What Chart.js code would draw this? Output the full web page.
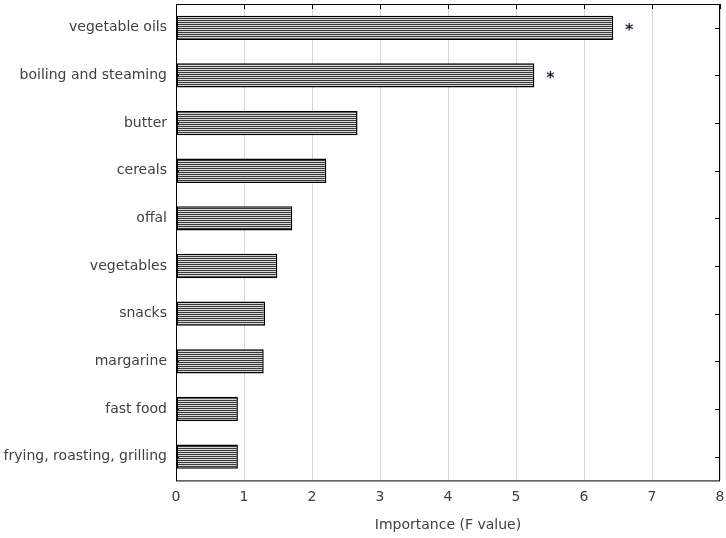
<!DOCTYPE html>
<html>
<head>
<meta charset="utf-8">
<script src="https://cdn.jsdelivr.net/npm/chart.js@4/dist/chart.umd.min.js"></script>
<style>
html,body{margin:0;padding:0;background:#fff;}
#wrap{width:726px;height:538px;position:relative;}
</style>
</head>
<body>
<div id="wrap"><canvas id="c" width="726" height="538"></canvas></div>
<script>
const categories = ["vegetable oils","boiling and steaming","butter","cereals","offal","vegetables","snacks","margarine","fast food","frying, roasting, grilling"];
const fValues = [6.43, 5.27, 2.67, 2.21, 1.71, 1.49, 1.31, 1.29, 0.91, 0.91];
const significance = ["*", "*", "", "", "", "", "", "", "", ""];
const xTicks = [0,1,2,3,4,5,6,7,8];
const axisTitle = "Importance (F value)";

function makePattern(){
  const p = document.createElement('canvas');
  p.width = 4; p.height = 2;
  const g = p.getContext('2d');
  g.fillStyle = '#d6d6d6'; g.fillRect(0,0,4,2);
  g.fillStyle = '#3a3a3a'; g.fillRect(0,0,4,1);
  return document.getElementById('c').getContext('2d').createPattern(p,'repeat');
}

const frame = {
  id: 'frame',
  afterDraw(chart){
    const {ctx, chartArea:a, scales} = chart;
    const x = scales.x, y = scales.y;
    ctx.save();
    ctx.strokeStyle = '#000';
    ctx.lineWidth = 1;
    ctx.strokeRect(a.left+0.5, a.top+0.5, a.right-a.left-1, a.bottom-a.top);
    ctx.beginPath();
    xTicks.forEach(v=>{const px=Math.round(x.getPixelForValue(v))+0.5; ctx.moveTo(px,a.top); ctx.lineTo(px,a.top+5);});
    categories.forEach((c,i)=>{
      const py=Math.round(y.getPixelForValue(i))+0.5;
      ctx.moveTo(a.right,py); ctx.lineTo(a.right-5,py);
      ctx.moveTo(a.left,py); ctx.lineTo(a.left+3,py);
    });
    ctx.stroke();
    ctx.fillStyle = '#1b2440';
    ctx.font = 'bold 16px "DejaVu Sans"';
    ctx.textAlign = 'center';
    ctx.textBaseline = 'middle';
    significance.forEach((s,i)=>{
      if(!s) return;
      const px = x.getPixelForValue(fValues[i]) + 16;
      const py = y.getPixelForValue(i) + 3;
      ctx.fillText(s, px, py);
    });
    ctx.restore();
  }
};

new Chart(document.getElementById('c'), {
  type: 'bar',
  data: {
    labels: categories,
    datasets: [{
      data: fValues,
      backgroundColor: makePattern(),
      borderColor: '#000',
      borderWidth: 1.5,
      borderSkipped: false,
      categoryPercentage: 1,
      barPercentage: 0.51
    }]
  },
  options: {
    indexAxis: 'y',
    responsive: false,
    animation: false,
    devicePixelRatio: 1,
    layout: {padding: {top: 4, right: 6, left: 0, bottom: 4}},
    plugins: {legend: {display: false}, tooltip: {enabled: false}},
    scales: {
      x: {
        min: 0, max: 8,
        afterBuildTicks(s){ s.ticks = xTicks.map(v=>({value:v})); },
        afterFit(s){ s.paddingLeft = 0; s.paddingRight = 0; },
        grid: {color: '#d4d4d4', drawTicks: false},
        border: {display: false},
        ticks: {color: '#404040', font: {family: 'DejaVu Sans', size: 14}, padding: 9},
        title: {display: true, text: axisTitle, color: '#404040', font: {family: 'DejaVu Sans', size: 14}, padding: {top: 2, bottom: 0}}
      },
      y: {
        grid: {display: false, drawTicks: false},
        border: {display: false},
        afterFit(s){ s.width = 176; s.paddingTop = 0; s.paddingBottom = 0; },
        ticks: {color: '#404040', font: {family: 'DejaVu Sans', size: 14}, padding: 9}
      }
    }
  },
  plugins: [frame]
});
</script>
</body>
</html>
